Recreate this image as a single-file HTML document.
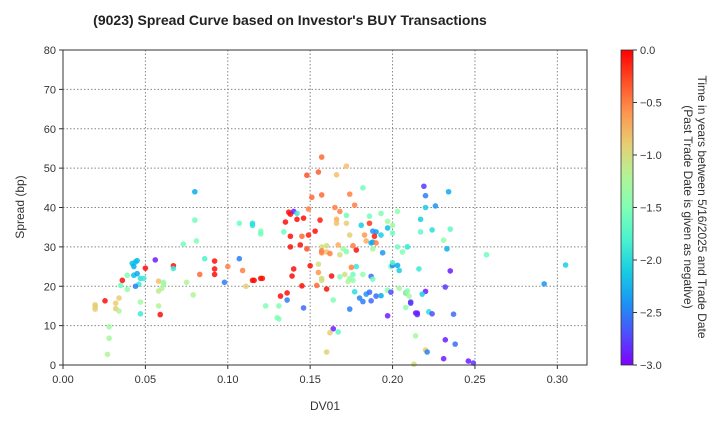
<!DOCTYPE html>
<html><head><meta charset="utf-8"><style>
body{margin:0;background:#fff;}
svg{font-family:"Liberation Sans","DejaVu Sans",sans-serif;}
</style></head><body>
<svg id="chart" width="720" height="420" xmlns="http://www.w3.org/2000/svg">
<text x="290" y="25" text-anchor="middle" font-size="14" font-weight="bold" fill="#222">(9023)   Spread Curve based on Investor's BUY Transactions</text>
<g id="grid"></g>
<g id="points"></g>
<rect x="63" y="50" width="524" height="315" fill="none" stroke="#333" stroke-width="1"/>
<g id="xticks"></g>
<g id="yticks"></g>
<text x="325" y="410" text-anchor="middle" font-size="12" fill="#333">DV01</text>
<text transform="translate(24,207) rotate(-90)" text-anchor="middle" font-size="12" fill="#333">Spread (bp)</text>
<defs><linearGradient id="cbg" x1="0" y1="1" x2="0" y2="0"></linearGradient></defs>
<rect x="621" y="50" width="12" height="315" fill="url(#cbg)" stroke="#333" stroke-width="0.8"/>
<g id="cticks"></g>
<text transform="translate(698,207) rotate(90)" text-anchor="middle" font-size="12" fill="#333">Time in years between 5/16/2025 and Trade Date</text>
<text transform="translate(684,207) rotate(90)" text-anchor="middle" font-size="12" fill="#333">(Past Trade Date is given as negative)</text>
</svg>
<script>
const xTicks=[0,0.05,0.10,0.15,0.20,0.25,0.30];
const xTickLabels=["0.00","0.05","0.10","0.15","0.20","0.25","0.30"];
const yTicks=[0,10,20,30,40,50,60,70,80];
const cTicks=[0,-0.5,-1,-1.5,-2,-2.5,-3];
const cTickLabels=["0.0","−0.5","−1.0","−1.5","−2.0","−2.5","−3.0"];
const dv01=[0.080,0.080,0.081,0.073,0.107,0.115,0.120,0.086,0.092,0.092,0.092,0.100,0.107,0.109,0.098,0.111,0.116,0.121,0.083,0.075,0.079,0.056,0.067,0.067,0.050,0.044,0.042,0.043,0.045,0.043,0.045,0.047,0.049,0.046,0.044,0.039,0.036,0.035,0.039,0.058,0.061,0.061,0.060,0.058,0.0255,0.0195,0.0195,0.0195,0.034,0.032,0.032,0.034,0.047,0.047,0.058,0.059,0.028,0.028,0.027,
0.157,0.172,0.148,0.155,0.166,0.151,0.157,0.174,0.182,0.177,0.165,0.149,0.137,0.138,0.135,0.142,0.146,0.156,0.168,0.166,0.166,0.172,0.172,0.186,0.193,0.203,0.197,0.200,0.181,0.186,0.188,0.183,0.184,0.190,0.189,0.197,0.193,0.200,0.153,0.149,0.145,0.138,0.134,0.120,0.115,0.174,0.138,0.144,0.148,0.157,0.160,0.157,0.157,0.160,0.162,0.167,0.168,0.170,0.172,0.176,0.178,0.187,0.188,0.190,0.188,0.194,0.203,0.206,0.209,0.155,0.150,0.155,0.140,0.139,0.120,0.115,0.157,0.157,0.163,0.154,0.145,0.160,0.168,0.171,0.174,0.173,0.178,0.175,0.176,0.176,0.182,0.187,0.188,0.199,0.200,0.203,0.204,0.200,0.216,0.204,0.177,0.184,0.186,0.190,0.193,0.197,0.199,0.182,0.187,0.180,0.174,0.164,0.146,0.132,0.136,0.136,0.131,0.123,0.130,0.131,0.197,0.208,0.208,0.210,0.211,0.214,0.215,0.220,0.222,0.214,0.164,0.167,0.162,0.160,0.220,0.213,0.219,0.220,0.220,0.217,0.217,
0.234,0.226,0.224,0.235,0.231,0.233,0.209,0.257,0.305,0.292,0.235,0.232,0.218,0.209,0.208,0.211,0.224,0.237,0.232,0.238,0.221,0.231,0.246,0.249,0.215,0.140,0.142];
const spread=[44,36.8,31.5,30.7,36,36,34,27,26.4,24.4,23,25,27,24,21,20,21.5,22,23,21,17.8,26.7,25.2,24.5,24.6,26.2,25.8,25,26.5,22.8,23.2,22,22,20.5,20,22.8,21.5,20.2,19.2,21.3,21,20.5,19.5,18.8,16.3,15.3,14.8,14.2,17,15.7,14.3,13.7,16,13,15,12.8,9.7,6.8,2.7,
52.8,50.5,48.2,49,48.3,42.6,43.2,43.4,45,40.6,40,39.6,38.8,38.3,36.3,37,37.3,36.8,39,37,36,36,38,37.8,38.5,39,36.5,35.5,35.5,36,34,33,31.5,33.8,32.7,34.8,33,33.5,34,33,32.7,32.7,33.8,33.3,35.5,33,30,30.5,29.5,30,30.3,29,28.5,28.7,28.3,30.5,28,29.5,28.8,30.3,29.2,31,31.2,31,29.5,28.5,30,28.7,30,25.6,25.2,23.5,24.4,22.6,22,21.5,22,21.5,22.6,20.2,20.1,19.3,22.4,23,22,21.2,25,24.8,23,21.5,23,22.5,21.8,25,25.3,25.3,24,26,24.4,19.5,18.6,18,18.5,17.5,17.6,19,18.5,16.1,16.3,17,14.2,16.5,14.5,17.5,18.3,16.5,15,15,12,11.7,12.5,14.6,18.3,17.5,16,13.2,12.8,18.7,13.5,7.4,9.2,8.4,8.2,3.3,3.8,0.2,45.4,43,40,37,33.8,
44,40.4,34.3,34.5,31.7,29.5,30,28,25.4,20.6,23.9,19.8,18,18.8,18.2,15.7,13,12.9,6.4,5.3,3.3,1.6,1,0.5,13.2,39,38.5];
const age=[-2.3,-1.6,-1.5,-1.6,-1.6,-2,-1.5,-1.8,-0.05,-0.05,-0.05,-0.5,-2.5,-0.5,-2.5,-0.9,-0.05,-0.1,-0.4,-1.2,-1.2,-2.9,-0.05,-1.9,-0.05,-2.2,-2.2,-2.3,-2.2,-2.2,-2.3,-2,-1.9,-1.9,-2.5,-1.5,-0.05,-1.6,-1.4,-0.8,-1.4,-1.3,-1.2,-1.1,-0.05,-0.9,-0.9,-0.9,-0.9,-0.9,-0.9,-1.2,-1.3,-1.9,-1.2,-0.05,-1.3,-1.3,-1.2,
-0.4,-0.8,-0.3,-0.35,-0.8,-0.4,-0.4,-0.5,-1.6,-0.5,-0.5,-0.5,-0.05,-0.05,-0.05,-0.05,-0.05,-0.1,-0.5,-0.7,-0.8,-0.9,-1.6,-1.6,-1.5,-1.4,-1.3,-1.3,-2.1,-0.2,-2.4,-0.6,-0.7,-2.4,-0.1,-2.2,-2.1,-1.6,-0.05,-0.1,-0.4,-0.05,-1.6,-1.6,-2,-0.9,-0.05,-0.05,-0.3,-1,-1,-0.5,-0.5,-0.8,-0.5,-0.7,-1,-1.3,-1.5,-0.5,-0.05,-2.3,-2.3,-0.5,-1.3,-2.4,-1.6,-1.5,-2.1,-1,-0.05,-0.6,-0.05,-0.05,-0.05,-0.05,-1,-1,-0.05,-0.4,-0.05,-0.05,-1.5,-1,-1.4,-1.2,-1.9,-0.5,-1.6,-1.4,-1.4,-2.6,-1.6,-1.6,-2.5,-2.3,-2.1,-1.8,-1.9,-1.3,-2,-2.4,-2.6,-2.6,-2.3,-1.5,-2.7,-2.5,-2.6,-2.5,-2.5,-1.5,-2.6,-0.05,-0.05,-2.5,-1.5,-1.5,-1.5,-1.5,-2.9,-1.4,-2.5,-1.3,-2.8,-2.9,-2.8,-2.9,-2,-1.3,-2.9,-1.7,-0.9,-0.9,-0.9,-1.0,-2.8,-2.5,-2.1,-2.1,-1.7,-2.3,-2.4,
-2,-1.7,-1.4,-2.3,-1.8,-1.6,-2.1,-2.4,-2.9,-2.8,-2.1,-1.5,-1.3,-2.8,-2.7,-2.6,-2.9,-2.6,-2.5,-2.9,-2.9,-2.8,-2.9,-2.9,-1.9,-0.05,-0.05];
const NS="http://www.w3.org/2000/svg";
const X0=63,X1=587,Y0=365,Y1=50;
const xs=v=>X0+(v-0)/(0.318)*(X1-X0);
const ys=v=>Y0-(v/80)*(Y0-Y1);
const cs=v=>Y0-((v+3)/3)*(Y0-Y1);
function rainbow(t){const x=(t+3)/3;const c=v=>Math.round(255*Math.max(0,Math.min(1,v)));
return `rgb(${c(Math.abs(2*x-0.5))},${c(Math.sin(Math.PI*x))},${c(Math.cos(Math.PI*x/2))})`;}
function mk(tag,attrs,parent){const e=document.createElementNS(NS,tag);for(const k in attrs)e.setAttribute(k,attrs[k]);parent.appendChild(e);return e;}
const grid=document.getElementById('grid'),xt=document.getElementById('xticks'),yt=document.getElementById('yticks'),ct=document.getElementById('cticks');
xTicks.forEach((v,i)=>{const x=xs(v);
 const g=mk('line',{x1:x,x2:x,y1:Y1,y2:Y0,stroke:'#888','stroke-dasharray':'1.5,2','stroke-width':1},grid);
 
 
 mk('line',{x1:x,x2:x,y1:Y0,y2:Y0+4,stroke:'#333'},xt);
 const t=mk('text',{x:x,y:Y0+18,'text-anchor':'middle','font-size':11,fill:'#333'},xt);t.textContent=xTickLabels[i];
 
 });
yTicks.forEach(v=>{const y=ys(v);
 const g=mk('line',{x1:X0,x2:X1,y1:y,y2:y,stroke:'#888','stroke-dasharray':'1.5,2','stroke-width':1},grid);
 
 
 mk('line',{x1:X0-4,x2:X0,y1:y,y2:y,stroke:'#333'},yt);
 const t=mk('text',{x:X0-7,y:y+4,'text-anchor':'end','font-size':11,fill:'#333'},yt);t.textContent=v;
 
 });
const pg=document.getElementById('points');
for(let i=0;i<dv01.length;i++){
 const c=mk('circle',{cx:xs(dv01[i]),cy:ys(spread[i]),r:2.8,fill:rainbow(age[i]),'fill-opacity':0.85},pg);
 
 }
const grad=document.getElementById('cbg');
for(let k=0;k<=10;k++){const t=-3+k*0.3;mk('stop',{offset:(k/10),'stop-color':rainbow(t)},grad);}
cTicks.forEach((v,i)=>{const y=cs(v);
 mk('line',{x1:633,x2:637,y1:y,y2:y,stroke:'#333'},ct);
 const t=mk('text',{x:640,y:y+4,'font-size':11,fill:'#333'},ct);t.textContent=cTickLabels[i];
 
 });
</script>
</body></html>
